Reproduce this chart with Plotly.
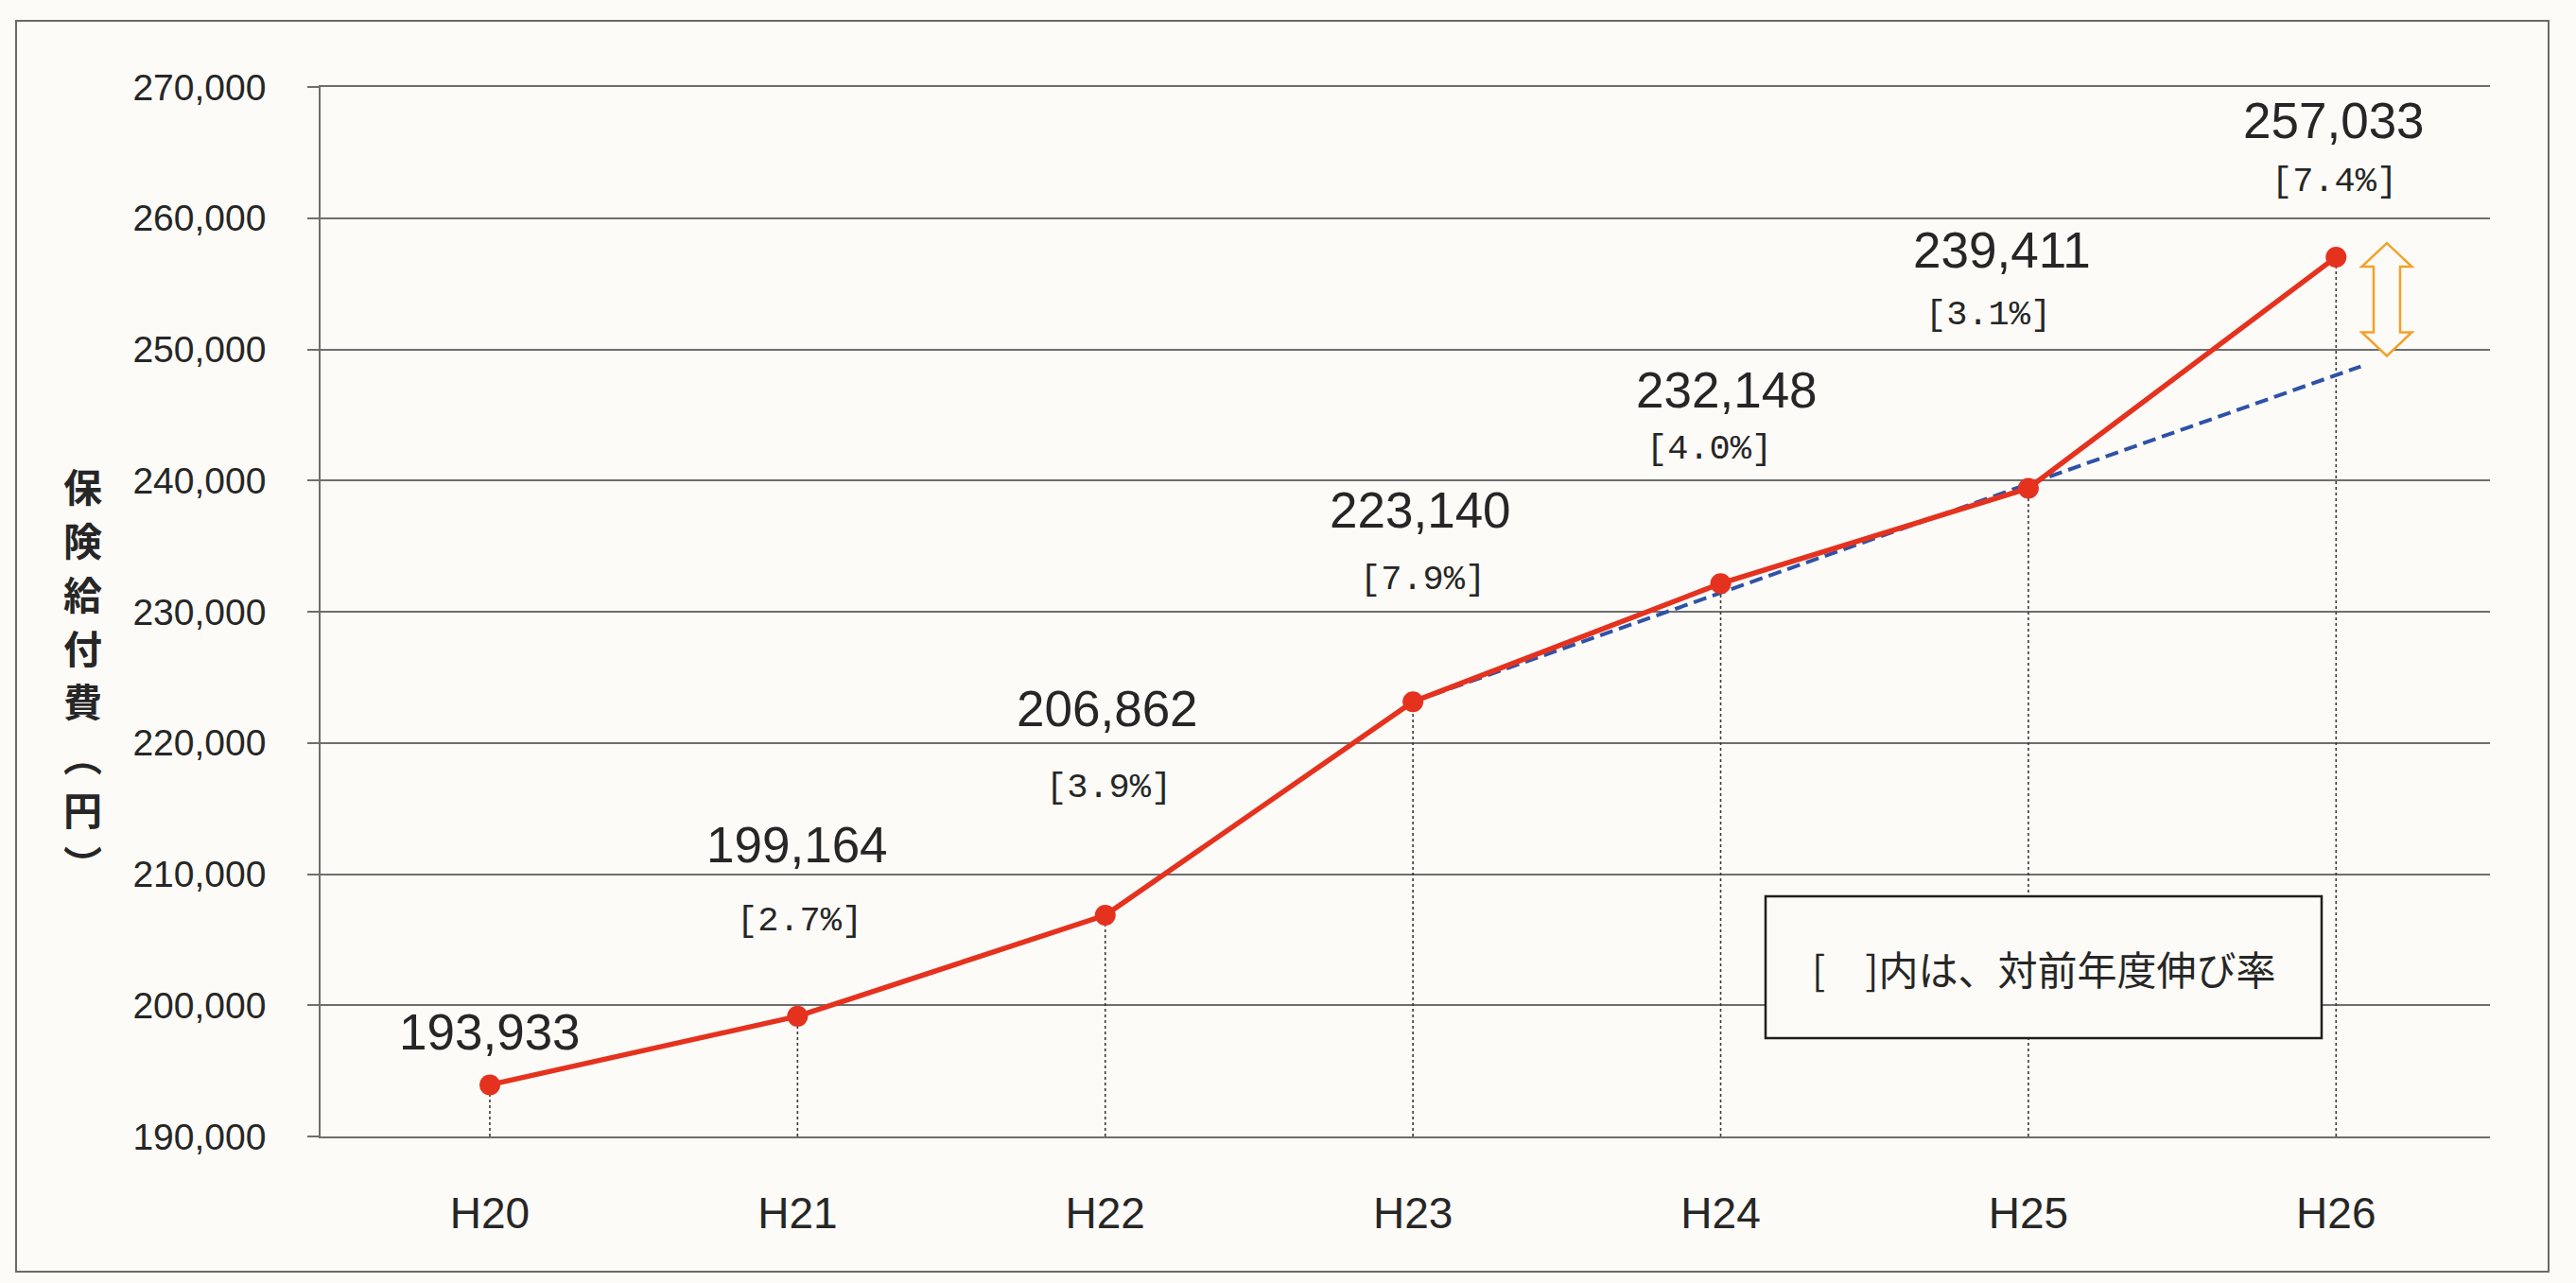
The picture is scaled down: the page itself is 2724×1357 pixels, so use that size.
import plotly.graph_objects as go

# ---------------- data ----------------
years = ["H20", "H21", "H22", "H23", "H24", "H25", "H26"]
benefit_yen = [193933, 199164, 206862, 223140, 232148, 239411, 257033]
growth_labels = ["", "[2.7%]", "[3.9%]", "[7.9%]", "[4.0%]", "[3.1%]", "[7.4%]"]
trend_x = [3, 6.08]
trend_yen = [223140, 248700]
y_tick_vals = [190000, 200000, 210000, 220000, 230000, 240000, 250000, 260000, 270000]
y_range = [190000, 270000]
arrow_span_yen = [249500, 258100]
note_text = "[\u2003]内は、対前年度伸び率"
y_title_chars = ["保", "険", "給", "付", "費", "︵", "円", "︶"]

# ---------------- layout / style settings (not data) ----------------
W, H = 2724, 1357
ML, MR, MT, MB = 339, 91, 92, 155
plot_w = W - ML - MR
plot_h = H - MT - MB
x_range = [-0.55, 6.5]

value_label_shift = [56, 181, 219, 203, 205, 252, 144]
value_label_xshift = [0, 0, 2, 8, 6, -28, -2]
growth_label_shift = [0, 101, 135, 129, 142, 183, 80]
growth_label_xshift = [0, 2, 4, 10, -12, -42, -2]

BG = "#fcfbf7"
RED = "#e5321f"
BLUE = "#2f52a8"
ORANGE = "#f2a12a"
GRID = "#6e6e6e"
TXT = "#262626"
NUM_FONT = "Liberation Sans Narrow, Arial Narrow, Liberation Sans, sans-serif"
MONO_FONT = "Liberation Mono, DejaVu Sans Mono, monospace"
JP_FONT = "Noto Sans CJK JP, Noto Sans, sans-serif"

xs = list(range(len(years)))

fig = go.Figure()

# drop lines from each point to the x axis
drop_x, drop_y = [], []
for x, v in zip(xs, benefit_yen):
    drop_x += [x, x, None]
    drop_y += [y_range[0], v, None]
fig.add_trace(go.Scatter(x=drop_x, y=drop_y, mode="lines",
                         line=dict(color="#3c3c3c", width=1.6, dash="dot"),
                         hoverinfo="skip", showlegend=False))

# trend (dashed)
fig.add_trace(go.Scatter(x=trend_x, y=trend_yen, mode="lines",
                         line=dict(color=BLUE, width=4, dash="14px,7px"),
                         hoverinfo="skip", showlegend=False))

# main series
fig.add_trace(go.Scatter(x=xs, y=benefit_yen, mode="lines+markers",
                         line=dict(color=RED, width=5.5),
                         marker=dict(color=RED, size=22),
                         showlegend=False, cliponaxis=False))

annotations = []
for i, (x, v) in enumerate(zip(xs, benefit_yen)):
    annotations.append(dict(x=x, y=v, xref="x", yref="y", text=f"{v:,}",
                            showarrow=False, yshift=value_label_shift[i],
                            xshift=value_label_xshift[i],
                            font=dict(family=NUM_FONT, size=53, color=TXT)))
    if growth_labels[i]:
        annotations.append(dict(x=x, y=v, xref="x", yref="y", text=growth_labels[i],
                                showarrow=False, yshift=growth_label_shift[i],
                                xshift=growth_label_xshift[i],
                                font=dict(family=MONO_FONT, size=37, color=TXT)))

# y axis title (vertical stacked, one character per line)
title_center_px = 712
title_step_px = 57
n = len(y_title_chars)
for k, ch in enumerate(y_title_chars):
    cy = title_center_px + (k - (n - 1) / 2) * title_step_px
    annotations.append(dict(x=(87 - ML) / plot_w, y=(H - MB - cy) / plot_h,
                            xref="paper", yref="paper", text=ch, showarrow=False,
                            xanchor="center", yanchor="middle", borderpad=0,
                            font=dict(family=JP_FONT, size=41, color=TXT, weight="bold")))

# note box text
annotations.append(dict(x=(2161 - ML) / plot_w, y=(H - MB - 1023) / plot_h,
                        xref="paper", yref="paper", text=note_text, showarrow=False,
                        xanchor="center", yanchor="middle",
                        font=dict(family=JP_FONT, size=42, color=TXT)))

shapes = []
# outer chart border
shapes.append(dict(type="rect", xref="paper", yref="paper",
                   x0=(17 - ML) / plot_w, x1=(2695 - ML) / plot_w,
                   y0=(H - MB - 1345) / plot_h, y1=(H - MB - 22) / plot_h,
                   line=dict(color="#6a6a6a", width=2), fillcolor="rgba(0,0,0,0)", layer="below"))
# note box
shapes.append(dict(type="rect", xref="paper", yref="paper",
                   x0=(1867 - ML) / plot_w, x1=(2455 - ML) / plot_w,
                   y0=(H - MB - 1098) / plot_h, y1=(H - MB - 948) / plot_h,
                   line=dict(color="#1e1e1e", width=2.5), fillcolor=BG, layer="above"))

# hollow orange double-headed arrow
ax = 6.165
px_x = (x_range[1] - x_range[0]) / plot_w
px_y = (y_range[1] - y_range[0]) / plot_h
hh, hs, hd = 26.5 * px_x, 14 * px_x, 25 * px_y
yb, yt = arrow_span_yen
pts = [(ax, yt), (ax + hh, yt - hd), (ax + hs, yt - hd), (ax + hs, yb + hd),
       (ax + hh, yb + hd), (ax, yb), (ax - hh, yb + hd), (ax - hs, yb + hd),
       (ax - hs, yt - hd), (ax - hh, yt - hd)]
path = "M " + " L ".join(f"{px},{py}" for px, py in pts) + " Z"
shapes.append(dict(type="path", xref="x", yref="y", path=path,
                   line=dict(color=ORANGE, width=2.5), fillcolor=BG, layer="above"))

fig.update_layout(
    width=W, height=H, autosize=False,
    margin=dict(l=ML, r=MR, t=MT, b=MB),
    paper_bgcolor=BG, plot_bgcolor=BG,
    annotations=annotations, shapes=shapes,
    showlegend=False,
)
fig.update_xaxes(range=x_range, tickmode="array", tickvals=xs, ticktext=years,
                 showgrid=False, zeroline=False,
                 showline=True, mirror=True, linecolor=GRID, linewidth=1.6,
                 ticks="", ticklabelstandoff=40,
                 tickfont=dict(family=NUM_FONT, size=46, color=TXT))
fig.update_yaxes(range=y_range, tickmode="array",
                 tickvals=y_tick_vals,
                 ticktext=[f"{v:,}" for v in y_tick_vals],
                 showgrid=True, gridcolor=GRID, gridwidth=1.6,
                 zeroline=False, showline=True, linecolor=GRID, linewidth=1.6,
                 ticks="outside", ticklen=12, tickcolor=GRID, tickwidth=1.6,
                 ticklabelstandoff=36,
                 tickfont=dict(family=NUM_FONT, size=39, color=TXT))

fig.write_html("out.html", config={"displayModeBar": False},
               post_script="document.body.style.margin='0px';")
